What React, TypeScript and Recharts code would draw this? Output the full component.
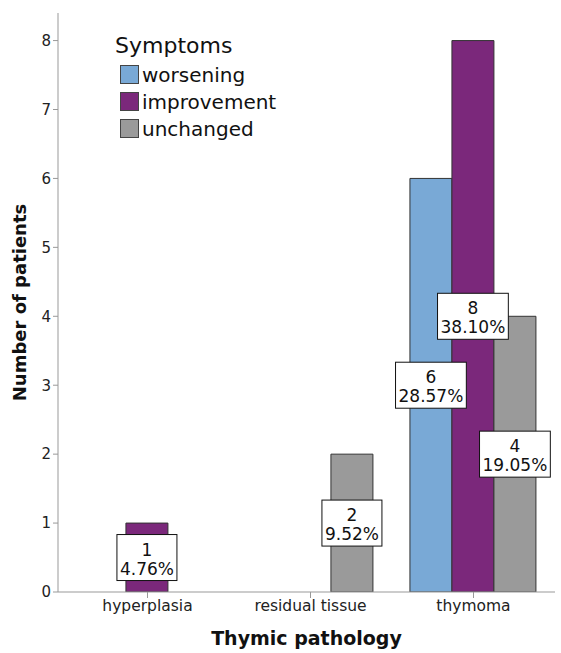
import React from "react"
import { BarChart, Bar, XAxis, YAxis, Legend, LabelList } from "recharts"

const categories = ["hyperplasia", "residual tissue", "thymoma"]
const worsening = [0, 0, 6]
const improvement = [1, 0, 8]
const unchanged = [0, 2, 4]
const yTicks = [0, 1, 2, 3, 4, 5, 6, 7, 8]

const series = [
  { key: "worsening", name: "worsening", color: "#79a9d6" },
  { key: "improvement", name: "improvement", color: "#7b287b" },
  { key: "unchanged", name: "unchanged", color: "#9a9a9a" },
]

const data = categories.map((c, i) => ({
  category: c,
  worsening: worsening[i],
  improvement: improvement[i],
  unchanged: unchanged[i],
}))

const total = [...worsening, ...improvement, ...unchanged].reduce((a, b) => a + b, 0)

const font = "'DejaVu Sans', sans-serif"

function textWidth(s: string) {
  let w = 0
  for (const ch of s) {
    if (ch === ".") w += 5.4
    else if (ch === "%") w += 16.2
    else w += 10.8
  }
  return w
}

const renderLabel = (props: any) => {
  const { x, y, width, height, value } = props
  if (!value) return null
  const pct = ((value / total) * 100).toFixed(2) + "%"
  const w = Math.max(textWidth(pct), textWidth(String(value))) + 6
  const cx = x + width / 2
  const cy = y + height / 2
  return (
    <g>
      <rect x={cx - w / 2} y={cy - 23} width={w} height={46} fill="#fff" stroke="#111" strokeWidth={1} />
      <text x={cx} y={cy - 2} textAnchor="middle" fontSize={17} fontFamily={font} fill="#111">
        {value}
      </text>
      <text x={cx} y={cy + 17} textAnchor="middle" fontSize={17} fontFamily={font} fill="#111">
        {pct}
      </text>
    </g>
  )
}

const renderLegend = () => (
  <div style={{ fontFamily: font, color: "#111" }}>
    <div style={{ fontSize: 22, lineHeight: "26px", marginBottom: 2 }}>Symptoms</div>
    {series.map((s) => (
      <div key={s.key} style={{ display: "flex", alignItems: "center", height: 27, marginLeft: 5 }}>
        <div
          style={{
            width: 19,
            height: 19,
            background: s.color,
            border: "1px solid #444",
            boxSizing: "border-box",
            marginRight: 3,
          }}
        />
        <span style={{ fontSize: 20 }}>{s.name}</span>
      </div>
    ))}
  </div>
)

export default function App() {
  return (
    <div style={{ position: "absolute", left: 0, top: 0, width: 561, height: 653, background: "#fff" }}>
      <BarChart
        width={561}
        height={653}
        data={data}
        margin={{ top: 13, right: 6, left: 18, bottom: 11 }}
        barCategoryGap="11%"
        barGap={0}
      >
        <XAxis
          dataKey="category"
          height={50}
          padding={{ left: 8, right: 0 }}
          stroke="#999"
          tickSize={6}
          tick={{ fontSize: 15.5, fontFamily: font, fill: "#222" }}
          label={{
            value: "Thymic pathology",
            position: "insideBottom",
            offset: -3,
            style: { fontSize: 19, fontWeight: "bold", fontFamily: font, fill: "#111" },
          }}
        />
        <YAxis
          width={40}
          domain={[0, 8.4]}
          ticks={yTicks}
          allowDataOverflow
          stroke="#999"
          tickSize={5}
          tick={{ fontSize: 15, fontFamily: font, fill: "#222" }}
          label={{
            value: "Number of patients",
            angle: -90,
            position: "center",
            dx: -18,
            style: { fontSize: 18, fontWeight: "bold", fontFamily: font, fill: "#111" },
          }}
        />
        <Legend
          layout="horizontal"
          align="center"
          verticalAlign="middle"
          content={renderLegend}
          wrapperStyle={{ left: 115, top: 33, width: 200 }}
        />
        {series.map((s) => (
          <Bar
            key={s.key}
            dataKey={s.key}
            name={s.name}
            fill={s.color}
            stroke="#333"
            strokeWidth={1}
            isAnimationActive={false}
          >
            <LabelList dataKey={s.key} content={renderLabel} />
          </Bar>
        ))}
      </BarChart>
    </div>
  )
}
